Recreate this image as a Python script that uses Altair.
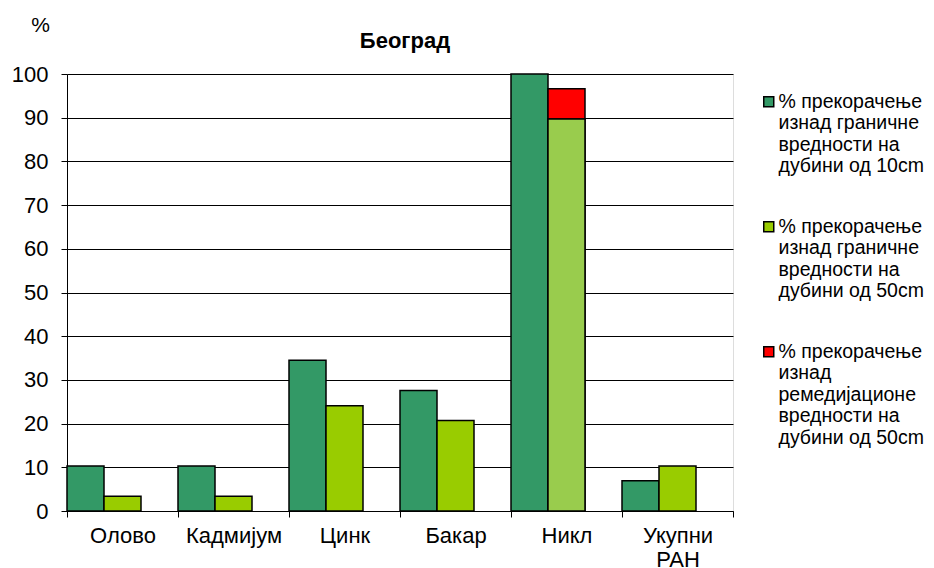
import altair as alt
import pandas as pd

categories = ["Олово", "Кадмијум", "Цинк", "Бакар", "Никл", "Укупни РАН"]
depth10 = [10.3, 10.3, 34.5, 27.6, 100.0, 6.9]
depth50 = [3.4, 3.4, 24.1, 20.7, 89.7, 10.3]
remed50 = [0.0, 0.0, 0.0, 0.0, 6.9, 0.0]

s1 = "% прекорачење|изнад граничне|вредности на|дубини од 10cm"
s2 = "% прекорачење|изнад граничне|вредности на|дубини од 50cm"
s3 = "% прекорачење|изнад|ремедијационе|вредности на|дубини од 50cm"
series = [s1, s2, s3]
colors = ["#339966", "#99CC00", "#FF0000"]

rows = []
for c, a, b, r in zip(categories, depth10, depth50, remed50):
    rows.append({"cat": c, "slot": "a", "y0": 0, "y1": a, "series": s1, "kind": "10"})
    rows.append({"cat": c, "slot": "b", "y0": 0, "y1": b, "series": s2, "kind": "50"})
    if r > 0:
        rows.append({"cat": c, "slot": "b", "y0": b, "y1": b + r, "series": s3, "kind": "rem"})
df = pd.DataFrame(rows)

FONT = "Liberation Sans"

x_enc = alt.X("cat:N", sort=categories, title=None,
              scale=alt.Scale(paddingInner=0, paddingOuter=0),
              axis=alt.Axis(labelAngle=0, tickBand="extent", tickSize=6,
                            labelPadding=8, labelFontSize=22, labelFont=FONT,
                            labelColor="black", domainColor="black", tickColor="black",
                            labelExpr="split(datum.label, ' ')", labelLineHeight=24,
                            labelLimit=0))
xo_enc = alt.XOffset("slot:N", scale=alt.Scale(domain=["a", "b", "c"], paddingInner=0, paddingOuter=0))
y_enc = alt.Y("y1:Q", title="%", scale=alt.Scale(domain=[0, 100], nice=False),
              axis=alt.Axis(values=list(range(0, 101, 10)), tickSize=6, labelPadding=13,
                            labelFontSize=22, labelFont=FONT, labelColor="black",
                            domainColor="black", tickColor="black",
                            grid=True, gridColor="black", gridWidth=1,
                            titleAngle=0, titleX=-27, titleY=-49, titleAlign="center",
                            titleBaseline="middle", titleFontSize=21, titleFont=FONT,
                            titleFontWeight="normal", titleColor="black"))

bars = alt.Chart(df).mark_bar(stroke="black", strokeWidth=1.5).encode(
    x=x_enc, xOffset=xo_enc, y=y_enc, y2="y0:Q",
    color=alt.Color("series:N",
                    scale=alt.Scale(domain=series, range=colors),
                    legend=alt.Legend(title=None, orient="none", legendX=692, legendY=18,
                                      symbolType="square", symbolSize=100,
                                      symbolStrokeColor="black", symbolStrokeWidth=1.5,
                                      labelExpr="split(datum.label, '|')",
                                      labelFont=FONT, labelFontSize=19.5,
                                      labelColor="black", labelLimit=0, rowPadding=40,
                                      labelOffset=0)),
)

nikl = alt.Chart(df).transform_filter(
    "datum.cat == 'Никл' && datum.kind == '50'"
).mark_bar(stroke="black", strokeWidth=1.5, color="#99CC4D").encode(
    x=x_enc, xOffset=xo_enc, y=y_enc, y2="y0:Q"
)

chart = alt.layer(bars, nikl).properties(
    width=666, height=437,
    title=alt.TitleParams("Београд", fontSize=22, fontWeight="bold", font=FONT,
                          anchor="middle", dx=5, offset=0, dy=56, baseline="alphabetic",
                          color="black"),
    autosize=alt.AutoSizeParams(type="none"),
    padding={"left": 59, "top": 66, "right": 193, "bottom": 60},
).configure_view(stroke="black", strokeWidth=1).configure(background="white")

chart.save("out.html", embed_options={"renderer": "svg", "actions": False})
